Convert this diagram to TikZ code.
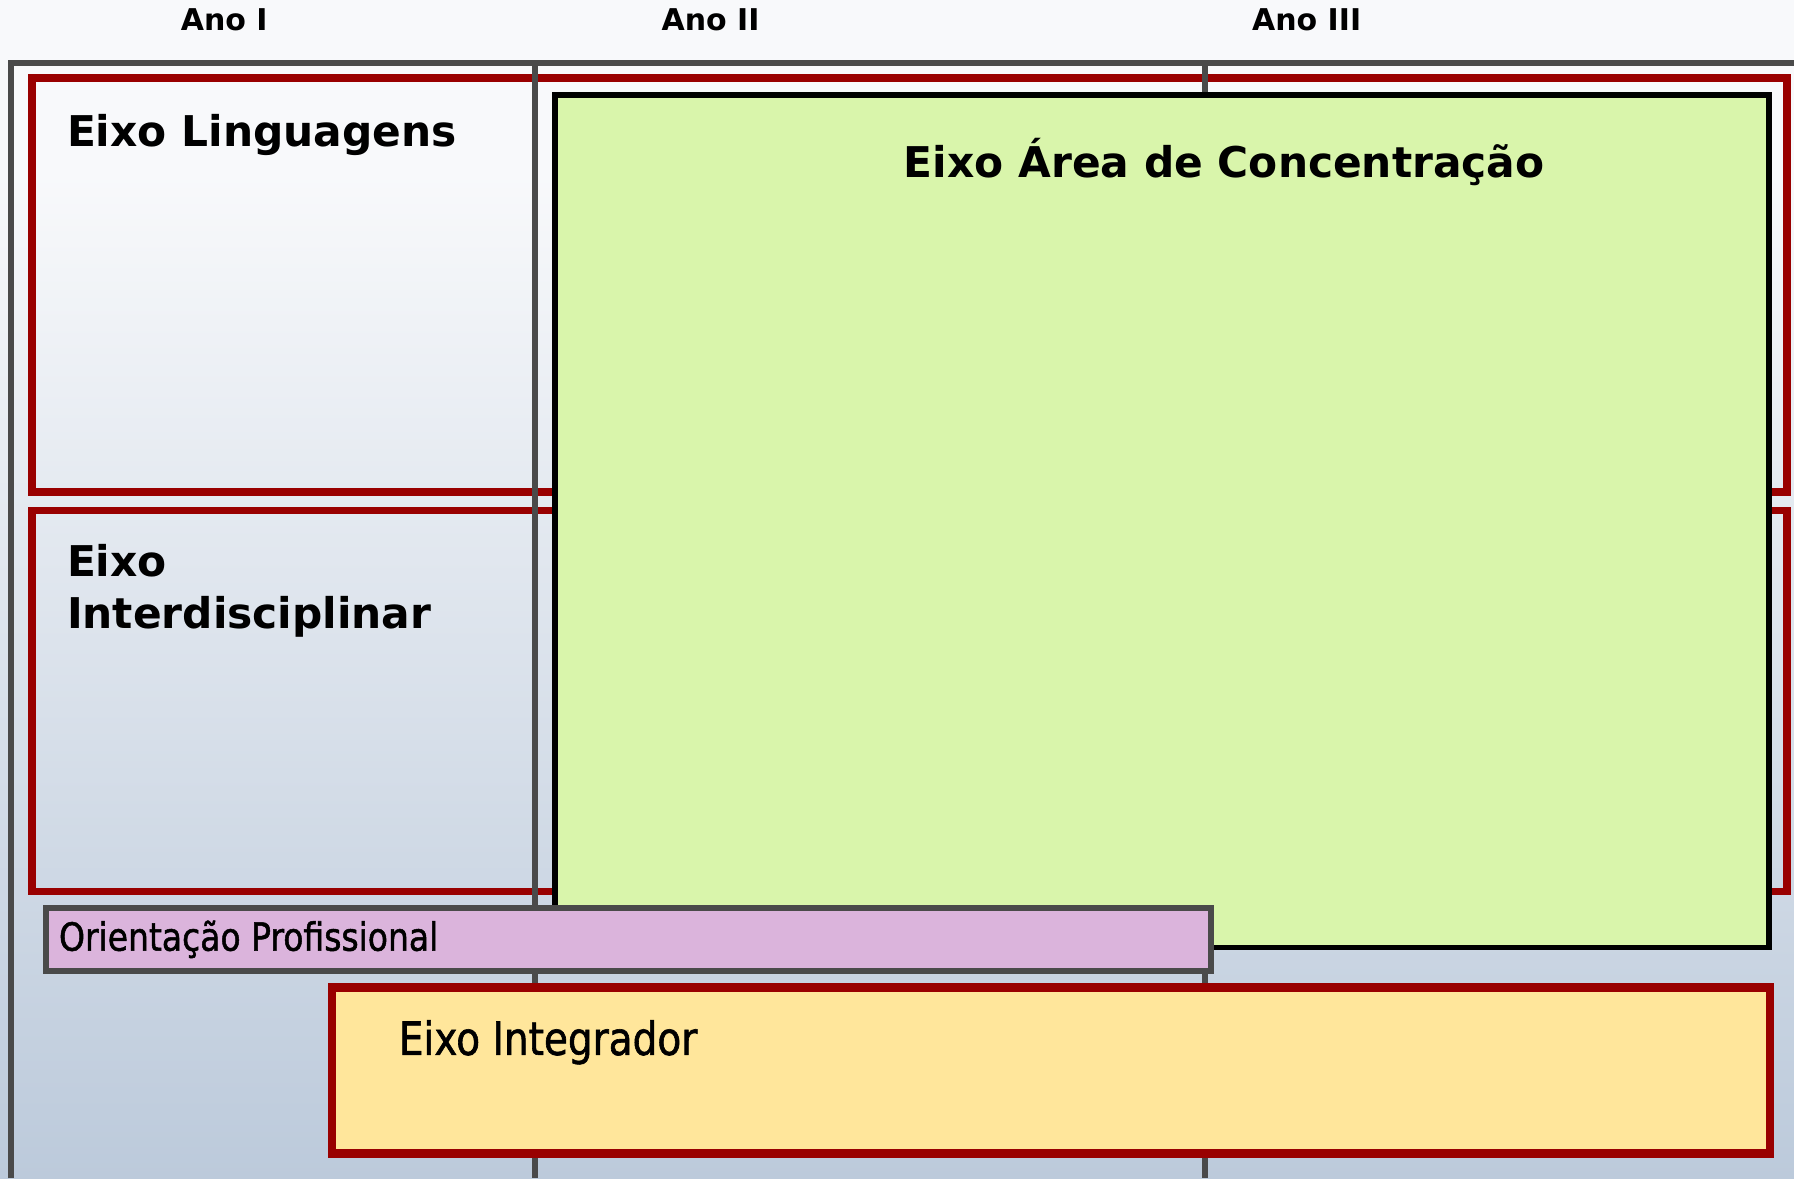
\documentclass[tikz,border=0pt]{standalone}
\usepackage{fontspec}
\setmainfont{DejaVu Sans}
\newfontfamily\narrowfont[FakeStretch=0.85,FakeBold=1.3]{DejaVu Sans}
\usepackage{tikz}
\usetikzlibrary{positioning}

\definecolor{axisred}{HTML}{990000}
\definecolor{gridgray}{HTML}{4A4A4A}
\definecolor{bgtop}{HTML}{F8F9FB}
\definecolor{bgbottom}{HTML}{BCCADB}
\definecolor{areagreen}{HTML}{D9F5AB}
\definecolor{orientpink}{HTML}{DBB4DC}
\definecolor{integryellow}{HTML}{FFE69B}

\begin{document}
\begin{tikzpicture}[
        x=0.3243pt, y=-0.3243pt,
        grid/.style={draw=gridgray, line width=1.7pt},
        axisframe/.style={draw=axisred, line width=2.1pt},
        yearlabel/.style={font=\fontsize{8.5}{10}\selectfont\bfseries, inner sep=0pt},
        axistitle/.style={font=\fontsize{12}{14.6}\selectfont\bfseries, inner sep=0pt},
        smalltitle/.style={font=\fontsize{11}{13}\narrowfont, inner sep=0pt}
    ]
    \useasboundingbox (0,0) rectangle (1568,1030);
    % background
    \fill[bgtop] (0,0) rectangle (1568,150);
    \shade[top color=bgtop, bottom color=bgbottom] (0,150) rectangle (1568,1030);

    % years
    \node[yearlabel] (ano1) at (196,17) {Ano I};
    \node[yearlabel] (ano2) at (621,17) {Ano II};
    \node[yearlabel] (ano3) at (1142,17) {Ano III};

    % red axes
    \draw[axisframe] (28,68) rectangle (1562,430);
    \draw[axisframe] (28,446) rectangle (1562,779);

    % columns
    \draw[grid] (10,1030) |- (1568,55);
    \draw[grid] (468,55) -- (468,1030);
    \draw[grid] (1053,55) -- (1053,1030);

    % boxes
    \draw[draw=black, line width=1.6pt, fill=areagreen] (485,83) rectangle (1546,828);
    \draw[draw=gridgray, line width=1.7pt, fill=orientpink] (40,794) rectangle (1058,849);
    \draw[draw=axisred, line width=2.4pt, fill=integryellow] (290,863) rectangle (1547,1008);

    % texts
    \node[axistitle, anchor=base west] (ling) at (58,128) {Eixo Linguagens};
    \node[axistitle, anchor=base] (area) at (1070,155) {Eixo Área de Concentração};
    \node[axistitle, anchor=base west] (inter1) at (58,504) {Eixo};
    \node[axistitle, anchor=base west] (inter2) at (58,549) {Interdisciplinar};
    \node[smalltitle, anchor=west] (orient) at (51,821) {Orientação Profissional};
    \node[smalltitle, font=\fontsize{13}{15}\narrowfont, anchor=base west] (integr) at (348,922) {Eixo Integrador};
\end{tikzpicture}
\end{document}
